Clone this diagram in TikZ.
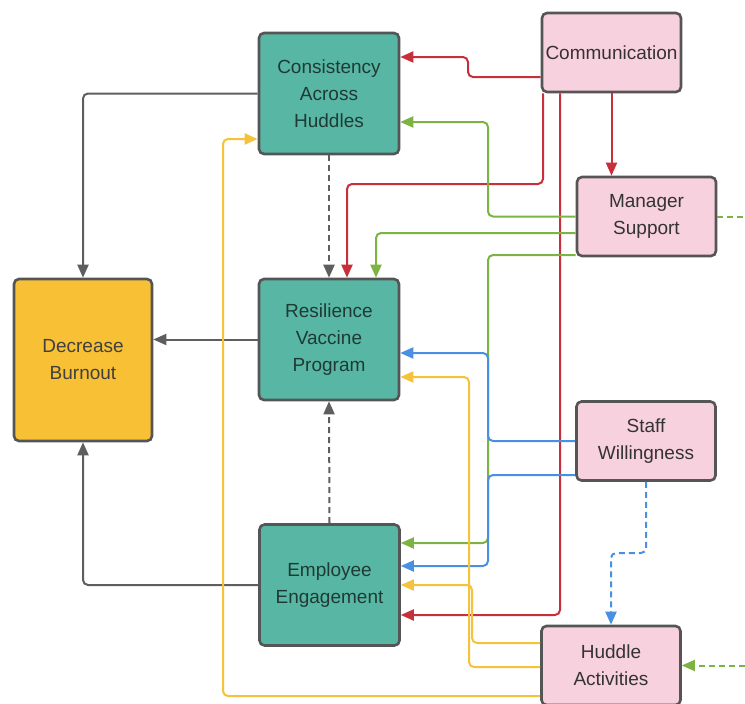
\documentclass[tikz,border=0pt]{standalone}
\usepackage{fontspec}
\setmainfont{Liberation Sans}
\usetikzlibrary{arrows.meta}

\definecolor{tealbox}{HTML}{58B7A4}
\definecolor{tealtext}{HTML}{1F3A34}
\definecolor{pinkbox}{HTML}{F8D1DE}
\definecolor{orangebox}{HTML}{F8C034}
\definecolor{edgegray}{HTML}{555555}
\definecolor{lnred}{HTML}{C7303A}
\definecolor{lngreen}{HTML}{7CB342}
\definecolor{lnblue}{HTML}{4A90E2}
\definecolor{lnyellow}{HTML}{F5C33B}
\definecolor{lngray}{HTML}{5E5E5E}

\tikzset{
  box/.style={draw=edgegray, line width=2.6pt, rounded corners=5pt, align=center,
    inner sep=0pt, font=\fontsize{19}{27}\selectfont},
  outcome/.style={box, fill=tealbox, text=tealtext, minimum width=140pt, minimum height=121pt},
  factor/.style={box, fill=pinkbox, text=black!80, minimum width=139pt, minimum height=79pt},
  goal/.style={box, fill=orangebox, text=black!75, minimum width=138pt, minimum height=162pt},
  link/.style={line width=2pt, rounded corners=5pt, -{Triangle[length=13pt,width=11pt]}},
  grayln/.style={link, draw=lngray},
  redln/.style={link, draw=lnred},
  greenln/.style={link, draw=lngreen},
  blueln/.style={link, draw=lnblue},
  yellowln/.style={link, draw=lnyellow},
  dashln/.style={dash pattern=on 6pt off 4pt}
}

\begin{document}
\begin{tikzpicture}[x=1pt,y=-1pt]
\useasboundingbox (0,0) rectangle (745,704);

\node[outcome] (cons) at (329,93.5) {Consistency\\Across\\Huddles};
\node[outcome] (res) at (329,339.5) {Resilience\\Vaccine\\Program};
\node[outcome] (emp) at (329.5,585) {Employee\\Engagement};
\node[goal] (burn) at (83,360) {Decrease\\Burnout};

\node[factor] (comm) at (611.5,52.5) {Communication};
\node[factor] (mgr) at (646.5,216.5) {Manager\\Support};
\node[factor] (staff) at (646,441) {Staff\\Willingness};
\node[factor] (hud) at (611,665.5) {Huddle\\Activities};

\coordinate (mgrout) at (745,216.5);
\coordinate (hudin) at (745,665.5);

\draw[grayln] (cons.west) -| (burn.north);
\draw[grayln] (res.west) -- (res.west -| burn.east);
\draw[grayln] (emp.west) -| (burn.south);
\draw[grayln,dashln] (cons.south) -- (res.north);
\draw[grayln,dashln] (emp.north) -- (res.south);

\draw[redln] (comm.west |- 0,77) -- (468,77) -- (468,57) -- (cons.east |- 0,57);
\draw[redln] (comm.south -| 543,0) -- (543,184) -- (347,184) -- (res.north -| 347,0);
\draw[redln] (comm.south -| 560,0) -- (560,615) -- (emp.east |- 0,615);
\draw[redln] (comm.south) -- (comm.south |- mgr.north);

\draw[greenln] (mgr.west) -- (488,216.5) -- (488,122) -- (cons.east |- 0,122);
\draw[greenln] (mgr.west |- 0,233) -- (376,233) -- (res.north -| 376,0);
\draw[greenln] (mgr.west |- 0,255) -- (488,255) -- (488,543) -- (emp.east |- 0,543);
\draw[greenln,dashln,-] (mgr.east) -- (mgrout);
\draw[greenln,dashln] (hudin) -- (hud.east);

\draw[blueln] (staff.west) -- (488,441) -- (488,353) -- (res.east |- 0,353);
\draw[blueln] (staff.west |- 0,475) -- (488,475) -- (488,566) -- (emp.east |- 0,566);
\draw[blueln,dashln] (staff.south) -- (staff.south |- 0,553) -- (hud.north |- 0,553) -- (hud.north);

\draw[yellowln] (hud.west |- 0,643) -- (472,643) -- (472,585) -- (emp.east);
\draw[yellowln] (hud.west |- 0,667) -- (469,667) -- (469,377) -- (res.east |- 0,377);
\draw[yellowln] (hud.west |- 0,696) -- (223,696) -- (223,139) -- (cons.west |- 0,139);

\end{tikzpicture}
\end{document}
